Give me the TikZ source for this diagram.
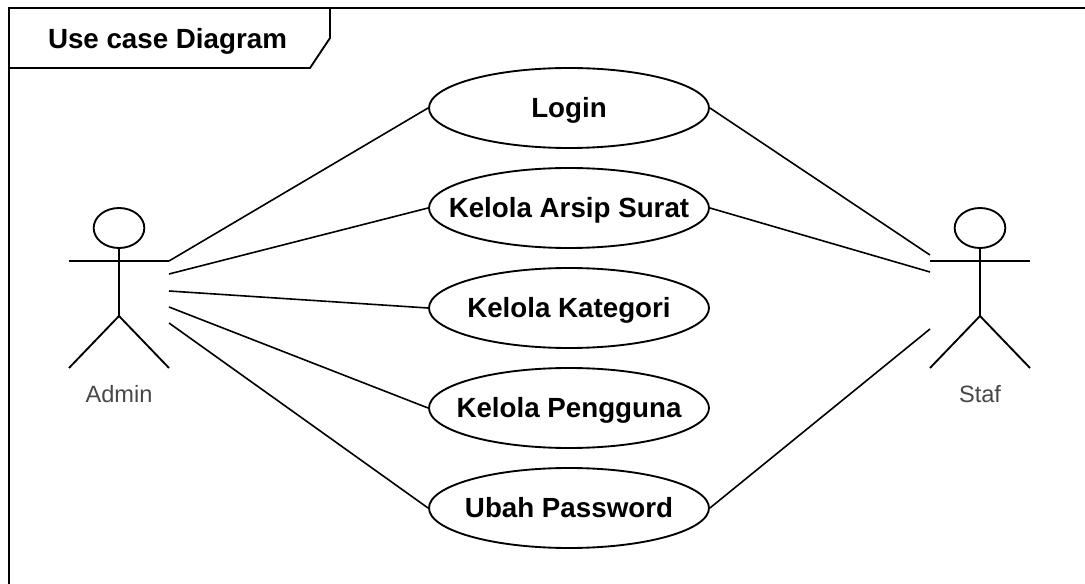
\documentclass[tikz,border=0pt]{standalone}
\usepackage{xcolor}
\usepackage{fontspec}
\setmainfont{Liberation Sans}
\usetikzlibrary{shapes.geometric}
\usetikzlibrary{positioning}

\tikzset{
  boldtext/.style={text height=14.9pt, text depth=0pt, font=\fontsize{20.8}{24}\selectfont\bfseries},
  usecase/.style={ellipse, draw, line width=1.4pt, minimum width=210pt, minimum height=60pt, inner ysep=0pt, inner xsep=-40pt, boldtext},
  head/.style={ellipse, draw, line width=1.4pt, minimum width=38pt, minimum height=30pt, inner sep=0pt},
  limb/.style={line width=1.4pt},
  link/.style={line width=1.2pt},
  actorname/.style={text=black!72, text height=12.7pt, text depth=0pt, font=\fontsize{17.7}{21}\selectfont}
}

\begin{document}
\begin{tikzpicture}[x=0.75pt, y=-0.75pt]
\useasboundingbox (0,0) rectangle (1085,584);

% Frame
\draw[line width=1.5pt] (1085,8) -- (9,8) -- (9,584);
\draw[line width=1.4pt] (330,8) -- (330,38) -- (310,68) -- (9,68);
\node[boldtext] at (167.5,39) (title) {Use case Diagram};

% Use cases
\node[usecase] at (569,108) (login) {Login};
\node[usecase] at (569,208) (arsip) {Kelola Arsip Surat};
\node[usecase] at (569,308) (kategori) {Kelola Kategori};
\node[usecase] at (569,408) (pengguna) {Kelola Pengguna};
\node[usecase] at (569,508) (password) {Ubah Password};

% Admin
\node[head] at (119,228) (adminhead) {};
\coordinate (adminl) at (69,261);
\coordinate (adminr) at (169,261);
\coordinate (adminhip) at (119,316);
\coordinate (adminfl) at (69,368);
\coordinate (adminfr) at (169,368);
\node[actorname] at (119,394.5) (admin) {Admin};
\draw[limb] (adminhead) -- (adminhip);
\draw[limb] (adminl) -- (adminr);
\draw[limb] (adminfl) -- (adminhip) -- (adminfr);

% Staf
\node[head] at (980,228) (stafhead) {};
\coordinate (stafl) at (930,261);
\coordinate (stafr) at (1030,261);
\coordinate (stafhip) at (980,316);
\coordinate (staffl) at (930,368);
\coordinate (staffr) at (1030,368);
\node[actorname] at (980,394.5) (staf) {Staf};
\draw[limb] (stafhead) -- (stafhip);
\draw[limb] (stafl) -- (stafr);
\draw[limb] (staffl) -- (stafhip) -- (staffr);

% Free ends at the actors
\coordinate (a1) at (169,261);
\coordinate (a2) at (169,274);
\coordinate (a3) at (169,291);
\coordinate (a4) at (169,307);
\coordinate (a5) at (169,323);
\coordinate (s1) at (930,255);
\coordinate (s2) at (930,272);
\coordinate (s3) at (930,329);

% Lines
\draw[link] (a1) -- (login.west);
\draw[link] (a2) -- (arsip.west);
\draw[link] (a3) -- (kategori.west);
\draw[link] (a4) -- (pengguna.west);
\draw[link] (a5) -- (password.west);
\draw[link] (s1) -- (login.east);
\draw[link] (s2) -- (arsip.east);
\draw[link] (s3) -- (password.east);

\end{tikzpicture}
\end{document}
